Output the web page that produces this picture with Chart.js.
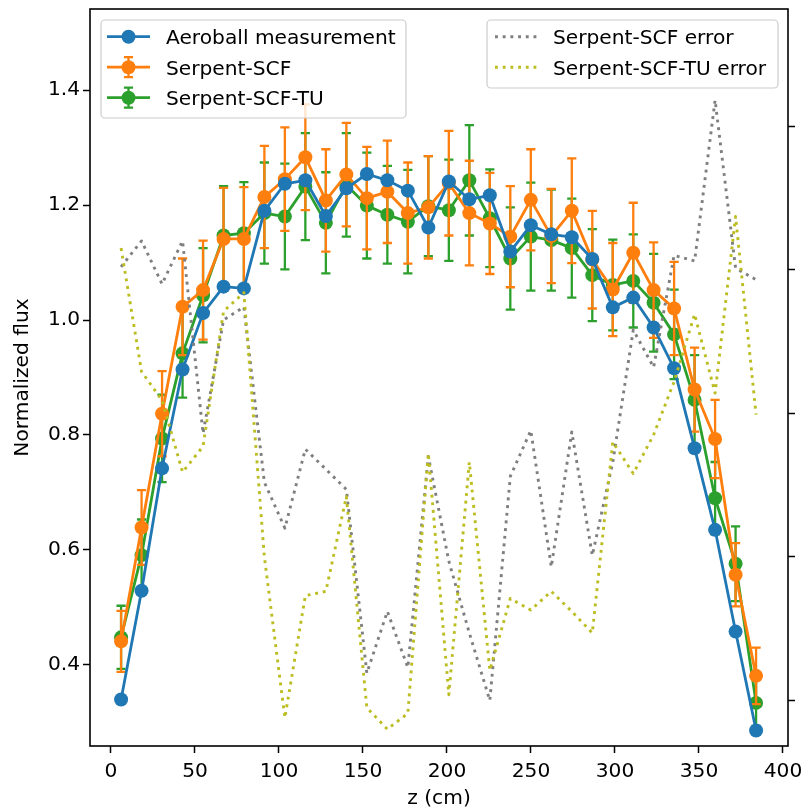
<!DOCTYPE html>
<html>
<head>
<meta charset="utf-8">
<script src="https://cdn.jsdelivr.net/npm/chart.js@4.4.1/dist/chart.umd.min.js"></script>
<style>
  html, body { margin: 0; padding: 0; background: #fff; overflow: hidden; }
  #wrap { width: 802px; height: 811px; position: relative; }
</style>
</head>
<body>
<div id="wrap"><canvas id="myChart"></canvas></div>
<script>
// axial positions (cm)
const zPos = [6.0, 18.2, 30.4, 42.6, 54.8, 67.0, 79.1, 91.3, 103.5, 115.7, 127.9, 140.1, 152.3, 164.5, 176.7, 188.9,
              201.1, 213.3, 225.5, 237.7, 249.9, 262.1, 274.3, 286.5, 298.7, 310.9, 323.0, 335.2, 347.4, 359.6, 371.8, 384.0];

// normalized flux
const aeroball = [0.340, 0.529, 0.742, 0.914, 1.012, 1.058, 1.055, 1.190, 1.237, 1.243, 1.181, 1.229, 1.254, 1.243, 1.225, 1.161,
                  1.241, 1.210, 1.217, 1.119, 1.165, 1.149, 1.144, 1.106, 1.022, 1.039, 0.987, 0.916, 0.777, 0.635, 0.458, 0.286];
const scf = [0.441, 0.639, 0.837, 1.023, 1.052, 1.141, 1.141, 1.214, 1.245, 1.283, 1.208, 1.253, 1.212, 1.223, 1.186, 1.196,
             1.238, 1.186, 1.168, 1.145, 1.209, 1.146, 1.190, 1.105, 1.053, 1.117, 1.052, 1.020, 0.879, 0.793, 0.557, 0.381];
const scfErr = [0.053, 0.065, 0.074, 0.084, 0.086, 0.089, 0.090, 0.089, 0.090, 0.092, 0.089, 0.090, 0.089, 0.089, 0.088, 0.089,
                0.091, 0.091, 0.088, 0.088, 0.088, 0.082, 0.091, 0.085, 0.081, 0.087, 0.083, 0.081, 0.073, 0.068, 0.055, 0.049];
const scfTu = [0.448, 0.591, 0.794, 0.942, 1.043, 1.147, 1.151, 1.186, 1.180, 1.232, 1.169, 1.235, 1.199, 1.183, 1.171, 1.198,
               1.191, 1.243, 1.177, 1.107, 1.145, 1.139, 1.125, 1.078, 1.061, 1.068, 1.030, 0.975, 0.861, 0.690, 0.576, 0.334];
const scfTuErr = [0.055, 0.062, 0.076, 0.077, 0.082, 0.086, 0.089, 0.088, 0.092, 0.093, 0.088, 0.090, 0.092, 0.085, 0.090, 0.087,
                  0.088, 0.096, 0.085, 0.089, 0.094, 0.088, 0.086, 0.080, 0.079, 0.081, 0.085, 0.078, 0.078, 0.063, 0.065, 0.040];

// errors (right axis)
const scfDiff = [4.02, 4.20, 3.90, 4.20, 2.86, 3.65, 3.74, 2.52, 2.20, 2.75, 2.61, 2.47, 1.19, 1.62, 1.23, 2.70,
                 1.97, 1.47, 1.00, 2.56, 2.88, 1.93, 2.87, 2.01, 2.66, 3.58, 3.32, 4.10, 4.06, 5.18, 4.01, 3.93];
const scfTuDiff = [4.15, 3.29, 3.09, 2.59, 2.77, 3.71, 3.84, 2.00, 0.88, 1.73, 1.76, 2.42, 0.95, 0.80, 0.91, 2.72,
                   1.04, 2.66, 1.21, 1.71, 1.63, 1.76, 1.62, 1.47, 2.80, 2.58, 2.85, 3.22, 3.69, 3.14, 4.37, 2.99];

const xTicks = [0, 50, 100, 150, 200, 250, 300, 350, 400];
const yTicks = [0.4, 0.6, 0.8, 1.0, 1.2, 1.4];
const y2Ticks = [1, 2, 3, 4, 5];

const BLUE = '#1f77b4', ORANGE = '#ff7f0e', GREEN = '#2ca02c', GREY = '#7f7f7f', OLIVE = '#bcbd22';
const FONT = "'DejaVu Sans', sans-serif";
const FS = 20.2;
const DOTS = [2.9, 4.8];

const pts = (ys) => zPos.map((x, i) => ({x: x, y: ys[i]}));

Chart.defaults.font.family = FONT;
Chart.defaults.font.size = FS;
Chart.defaults.color = '#000';

// error bars drawn just before their own line/markers
const errorBars = {
    id: 'errorBars',
    beforeDatasetDraw(chart, args) {
        const ds = chart.data.datasets[args.index];
        if (!ds.yErr) return;
        const ctx = chart.ctx;
        const xs = chart.scales.x, ys = chart.scales.y;
        ctx.save();
        ctx.strokeStyle = ds.borderColor;
        ctx.lineWidth = 2.3;
        ds.data.forEach((p, i) => {
            const px = xs.getPixelForValue(p.x);
            const top = ys.getPixelForValue(p.y + ds.yErr[i]);
            const bot = ys.getPixelForValue(p.y - ds.yErr[i]);
            ctx.beginPath();
            ctx.moveTo(px, top); ctx.lineTo(px, bot);
            ctx.moveTo(px - 4.6, top); ctx.lineTo(px + 4.6, top);
            ctx.moveTo(px - 4.6, bot); ctx.lineTo(px + 4.6, bot);
            ctx.stroke();
        });
        ctx.restore();
    }
};

function roundBox(ctx, x, y, w, h, r) {
    ctx.beginPath();
    ctx.moveTo(x + r, y);
    ctx.arcTo(x + w, y, x + w, y + h, r);
    ctx.arcTo(x + w, y + h, x, y + h, r);
    ctx.arcTo(x, y + h, x, y, r);
    ctx.arcTo(x, y, x + w, y, r);
    ctx.closePath();
}

function drawLegend(ctx, box, rows) {
    ctx.save();
    roundBox(ctx, box.x, box.y, box.w, box.h, 4);
    ctx.fillStyle = 'rgba(255,255,255,0.8)';
    ctx.fill();
    ctx.strokeStyle = '#cccccc';
    ctx.lineWidth = 1.2;
    ctx.stroke();
    rows.forEach((r, i) => {
        const cy = box.y + 16.7 + i * 30.5;
        const x1 = box.x + box.hx, x2 = x1 + 43, mx = (x1 + x2) / 2;
        ctx.strokeStyle = r.color;
        ctx.fillStyle = r.color;
        if (r.dotted) {
            ctx.setLineDash(DOTS);
            ctx.lineWidth = 2.9;
            ctx.lineCap = 'butt';
        } else {
            ctx.setLineDash([]);
            ctx.lineWidth = 2.8;
        }
        ctx.beginPath();
        ctx.moveTo(x1, cy); ctx.lineTo(x2, cy);
        ctx.stroke();
        ctx.setLineDash([]);
        if (r.err) {
            ctx.lineWidth = 2.3;
            ctx.beginPath();
            ctx.moveTo(mx, cy - 10); ctx.lineTo(mx, cy + 10);
            ctx.moveTo(mx - 4.6, cy - 10); ctx.lineTo(mx + 4.6, cy - 10);
            ctx.moveTo(mx - 4.6, cy + 10); ctx.lineTo(mx + 4.6, cy + 10);
            ctx.stroke();
        }
        if (r.marker) {
            ctx.beginPath();
            ctx.arc(mx, cy, 7, 0, Math.PI * 2);
            ctx.fill();
        }
        ctx.fillStyle = '#000';
        ctx.font = FS + 'px ' + FONT;
        ctx.textBaseline = 'alphabetic';
        ctx.textAlign = 'left';
        ctx.fillText(r.text, box.x + box.tx, cy + 7.3);
    });
    ctx.restore();
}

const frameAndLegends = {
    id: 'frameAndLegends',
    afterDraw(chart) {
        const ctx = chart.ctx;
        const a = chart.chartArea;
        ctx.save();
        ctx.strokeStyle = '#000';
        ctx.lineWidth = 1.6;
        ctx.strokeRect(a.left, a.top, a.right - a.left, a.bottom - a.top);
        ctx.restore();
        const ds = chart.data.datasets;
        drawLegend(ctx, {x: 101, y: 20, w: 305, h: 98, hx: 6, tx: 65}, [
            {text: ds[0].label, color: BLUE, marker: true},
            {text: ds[1].label, color: ORANGE, marker: true, err: true},
            {text: ds[2].label, color: GREEN, marker: true, err: true}
        ]);
        drawLegend(ctx, {x: 487, y: 20, w: 291, h: 68, hx: 8, tx: 66}, [
            {text: ds[3].label, color: GREY, dotted: true},
            {text: ds[4].label, color: OLIVE, dotted: true}
        ]);
    }
};

// fixed axis box sizes, no extra label overhang padding
const fixBox = (size) => (s) => {
    if (s.isHorizontal()) s.height = size; else s.width = size;
    s.paddingTop = 0; s.paddingBottom = 0; s.paddingLeft = 0; s.paddingRight = 0;
};

const tickGrid = {display: true, drawOnChartArea: false, drawTicks: true, tickLength: 7, tickWidth: 1.5, tickColor: '#000'};

const ctx = document.getElementById('myChart').getContext('2d');
const myChart = new Chart(ctx, {
    type: 'line',
    data: {
        datasets: [
            {label: 'Aeroball measurement', data: pts(aeroball), yAxisID: 'y', order: 2,
             borderColor: BLUE, backgroundColor: BLUE, borderWidth: 2.8, borderJoinStyle: 'round',
             pointRadius: 7, pointBorderWidth: 0, pointBackgroundColor: BLUE},
            {label: 'Serpent-SCF', data: pts(scf), yErr: scfErr, yAxisID: 'y', order: 3,
             borderColor: ORANGE, backgroundColor: ORANGE, borderWidth: 2.8, borderJoinStyle: 'round',
             pointRadius: 7, pointBorderWidth: 0, pointBackgroundColor: ORANGE},
            {label: 'Serpent-SCF-TU', data: pts(scfTu), yErr: scfTuErr, yAxisID: 'y', order: 4,
             borderColor: GREEN, backgroundColor: GREEN, borderWidth: 2.8, borderJoinStyle: 'round',
             pointRadius: 7, pointBorderWidth: 0, pointBackgroundColor: GREEN},
            {label: 'Serpent-SCF error', data: pts(scfDiff), yAxisID: 'y2', order: 1,
             borderColor: GREY, borderWidth: 2.9, borderDash: DOTS, borderJoinStyle: 'round', pointRadius: 0},
            {label: 'Serpent-SCF-TU error', data: pts(scfTuDiff), yAxisID: 'y2', order: 0,
             borderColor: OLIVE, borderWidth: 2.9, borderDash: DOTS, borderJoinStyle: 'round', pointRadius: 0}
        ]
    },
    options: {
        responsive: true,
        maintainAspectRatio: false,
        animation: false,
        layout: {padding: {top: 9, left: 0, right: 0, bottom: 0}},
        plugins: {legend: {display: false}, tooltip: {enabled: false}},
        elements: {line: {tension: 0}},
        scales: {
            x: {
                type: 'linear', min: -12.5, max: 403,
                afterBuildTicks: (s) => { s.ticks = xTicks.map(v => ({value: v})); },
                afterFit: fixBox(65),
                grid: tickGrid, border: {display: false},
                ticks: {padding: 7, autoSkip: false, maxRotation: 0},
                title: {display: true, text: 'z (cm)', padding: {top: 0, bottom: 0}}
            },
            y: {
                type: 'linear', position: 'left', min: 0.259, max: 1.541,
                afterBuildTicks: (s) => { s.ticks = yTicks.map(v => ({value: v})); },
                afterFit: fixBox(90),
                grid: tickGrid, border: {display: false},
                ticks: {padding: 3, autoSkip: false, callback: (v) => v.toFixed(1)},
                title: {display: true, text: 'Normalized flux', padding: {top: 11, bottom: 0}}
            },
            y2: {
                type: 'linear', position: 'right', min: 0.683, max: 5.815,
                afterBuildTicks: (s) => { s.ticks = y2Ticks.map(v => ({value: v})); },
                afterFit: fixBox(14),
                grid: tickGrid, border: {display: false},
                ticks: {padding: 0, autoSkip: false, callback: () => ''}
            }
        }
    },
    plugins: [errorBars, frameAndLegends]
});
</script>
</body>
</html>
